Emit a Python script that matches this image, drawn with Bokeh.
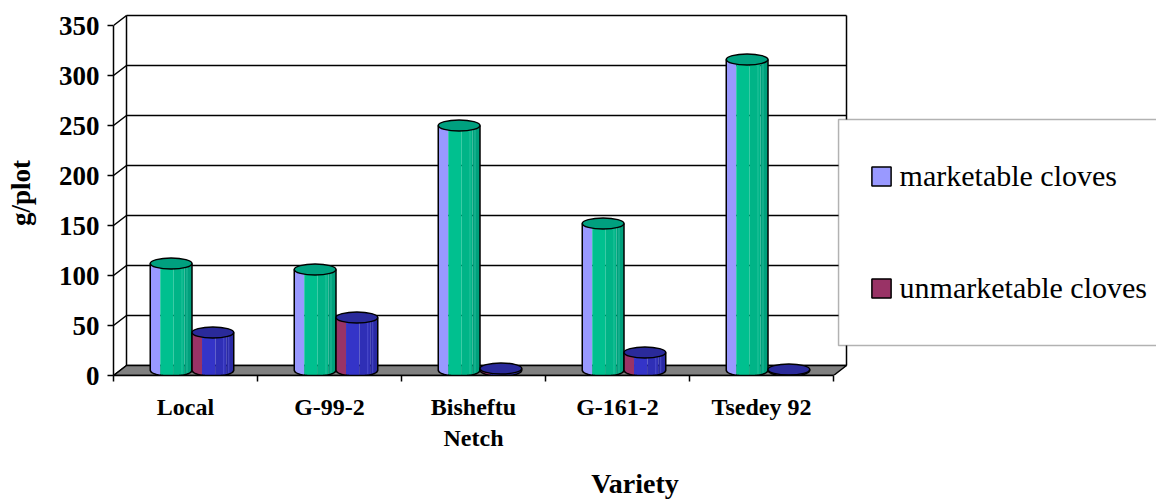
import numpy as np
from bokeh.plotting import figure
from bokeh.models import (Range1d, FixedTicker, Legend, LegendItem, BoxAnnotation)
from bokeh.embed import file_html
from bokeh.resources import INLINE

# ---- data -------------------------------------------------------------
varieties = ["Local", "G-99-2", "Bisheftu\nNetch", "G-161-2", "Tsedey 92"]
marketable = [107, 101, 245, 147, 311]
unmarketable = [38, 53, 2, 18, 1]
series_names = ["marketable cloves", "unmarketable cloves"]
y_ticks = [0, 50, 100, 150, 200, 250, 300, 350]

# ---- styling ----------------------------------------------------------
FONT = "Liberation Serif"
STYLES = [
    # stripe, main, mid, dark, top, highlight
    dict(stripe="#9999FF", main="#00C08F", mid="#00B487", dark="#00A07C",
         top="#00A07F", hi="#33CCA6"),
    dict(stripe="#993366", main="#3434C8", mid="#2F2FB6", dark="#2A2AA4",
         top="#2A2A9A", hi="#5A5AD8"),
]
BANDS = [(0.0, 0.24, "stripe"), (0.24, 0.56, "main"),
         (0.56, 0.82, "mid"), (0.82, 1.0, "dark")]

# ---- 3-D geometry (data units) ---------------------------------------
DEPTH_X = 13 / 144      # shift from the front plane to the back wall
DEPTH_Y = 10
CYL_W = 0.29            # cylinder diameter in category units
ELL_H = 11              # apparent height of the elliptical caps
BASE = DEPTH_Y / 2      # cylinders stand half way into the floor
Y_MAX = y_ticks[-1]

n = len(varieties)
x_lo, x_hi = -0.5, n - 0.5

p = figure(width=1156, height=502, output_backend="svg", toolbar_location=None,
           title=None, x_range=Range1d(-0.5, 6.743), y_range=Range1d(0, 365),
           min_border_left=113, min_border_right=0, min_border_top=10,
           min_border_bottom=127)
p.outline_line_color = None
p.grid.visible = False
p.background_fill_color = "white"

# back wall grid lines
p.segment(x0=[x_lo + DEPTH_X] * len(y_ticks), y0=[v + DEPTH_Y for v in y_ticks],
          x1=[x_hi + DEPTH_X] * len(y_ticks), y1=[v + DEPTH_Y for v in y_ticks],
          line_color="black", line_width=1.5)
# side wall diagonals
p.segment(x0=[x_lo] * len(y_ticks), y0=y_ticks,
          x1=[x_lo + DEPTH_X] * len(y_ticks), y1=[v + DEPTH_Y for v in y_ticks],
          line_color="black", line_width=1.5)
# back wall edges
p.segment(x0=[x_lo + DEPTH_X, x_hi + DEPTH_X], y0=[DEPTH_Y, DEPTH_Y],
          x1=[x_lo + DEPTH_X, x_hi + DEPTH_X], y1=[Y_MAX + DEPTH_Y] * 2,
          line_color="black", line_width=1.5)
# floor
p.patch([x_lo, x_hi, x_hi + DEPTH_X, x_lo + DEPTH_X], [0, 0, DEPTH_Y, DEPTH_Y],
        fill_color="#808080", line_color="black", line_width=1.5)


def arc(xs, xc):
    r = np.clip(1 - ((xs - xc) / (CYL_W / 2)) ** 2, 0, 1)
    return BASE - ELL_H / 2 * np.sqrt(r)


def draw_cylinders(values, offset, st):
    band_xs = {k: [] for _, _, k in BANDS}
    band_ys = {k: [] for _, _, k in BANDS}
    out_xs, out_ys = [], []
    hi_x0, hi_y0, hi_y1 = [], [], []
    centers, tops = [], []
    for i, v in enumerate(values):
        xc = i + DEPTH_X / 2 + offset * CYL_W / 2
        xl = xc - CYL_W / 2
        top = BASE + v
        for f0, f1, key in BANDS:
            xs = np.linspace(xl + f0 * CYL_W, xl + f1 * CYL_W, 14)
            band_xs[key].append(list(xs) + [xs[-1], xs[0]])
            band_ys[key].append(list(arc(xs, xc)) + [top, top])
        for f in (0.76, 0.88):
            hx = xl + f * CYL_W
            hi_x0.append(hx)
            hi_y0.append(float(arc(np.array([hx]), xc)[0]))
            hi_y1.append(top)
        ax = np.linspace(xl, xl + CYL_W, 40)
        out_xs.append([xl] + list(ax) + [xl + CYL_W])
        out_ys.append([top] + list(arc(ax, xc)) + [top])
        centers.append(xc)
        tops.append(top)
    for _, _, key in BANDS:
        p.patches(band_xs[key], band_ys[key], fill_color=st[key], line_color=None)
    p.segment(x0=hi_x0, y0=hi_y0, x1=hi_x0, y1=hi_y1, line_color=st["hi"],
              line_width=1, line_alpha=0.7)
    p.multi_line(out_xs, out_ys, line_color="black", line_width=1.5)
    p.ellipse(x=centers, y=tops, width=CYL_W, height=ELL_H, fill_color=st["top"],
              line_color="black", line_width=1.5)


draw_cylinders(marketable, -1, STYLES[0])
draw_cylinders(unmarketable, 1, STYLES[1])

# ---- axes -------------------------------------------------------------
yax = p.yaxis[0]
yax.ticker = FixedTicker(ticks=y_ticks, minor_ticks=[])
yax.bounds = (0, Y_MAX)
yax.major_tick_out = 6
yax.major_tick_in = 0
yax.axis_line_width = 1.5
yax.major_tick_line_width = 1.5
yax.major_label_text_font = FONT
yax.major_label_text_font_size = "27px"
yax.major_label_text_font_style = "bold"
yax.major_label_text_color = "black"
yax.major_label_standoff = 8
yax.axis_label = "g/plot"
yax.axis_label_text_font = FONT
yax.axis_label_text_font_size = "27px"
yax.axis_label_text_font_style = "bold"
yax.axis_label_text_color = "black"
yax.axis_label_standoff = 20

xax = p.xaxis[0]
xax.ticker = FixedTicker(ticks=list(range(n)),
                         minor_ticks=[i - 0.5 for i in range(n + 1)])
xax.major_label_overrides = {i: name for i, name in enumerate(varieties)}
xax.bounds = (x_lo, x_hi)
xax.axis_line_width = 1.5
xax.major_tick_out = 0
xax.major_tick_in = 0
xax.minor_tick_out = 6
xax.minor_tick_in = 0
xax.minor_tick_line_color = "black"
xax.minor_tick_line_width = 1.5
xax.major_label_text_font = FONT
xax.major_label_text_font_size = "24px"
xax.major_label_text_font_style = "bold"
xax.major_label_text_color = "black"
xax.major_label_standoff = 12
xax.axis_label = "Variety"
xax.axis_label_text_font = FONT
xax.axis_label_text_font_size = "28px"
xax.axis_label_text_font_style = "bold"
xax.axis_label_text_color = "black"
xax.axis_label_standoff = 14

# ---- legend -----------------------------------------------------------
p.add_layout(BoxAnnotation(left=4.535, right=7.5, bottom=30, top=256,
                           fill_color="white", fill_alpha=1,
                           line_color="black", line_width=1.5))
# swatch renderers sit outside the visible range; only the legend shows them
swatches = [p.quad(left=[-9], right=[-8], top=[-9], bottom=[-10],
                   fill_color=st["stripe"], line_color="black", line_width=1.5)
            for st in STYLES]
legend = Legend(items=[LegendItem(label=name, renderers=[r])
                       for name, r in zip(series_names, swatches)],
                location=(755.6, 70.5), orientation="vertical",
                glyph_width=24, glyph_height=24, label_height=24,
                label_standoff=7, spacing=78, padding=0, margin=0,
                border_line_alpha=0, background_fill_alpha=0,
                label_text_font=FONT, label_text_font_size="30px",
                label_text_color="black")
p.add_layout(legend)

open("out.html", "w").write(file_html(p, INLINE))
